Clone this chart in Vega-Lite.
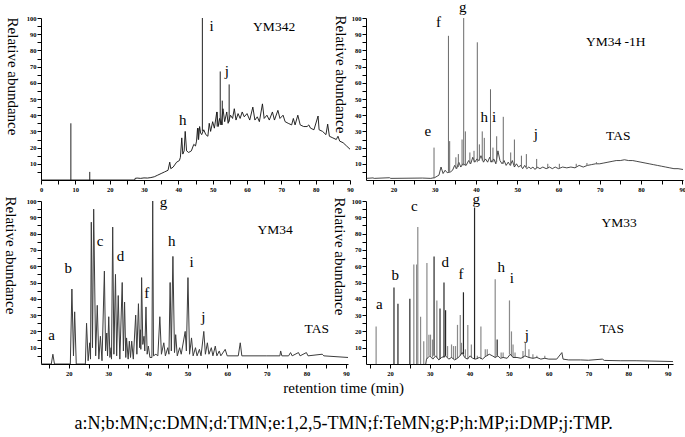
{
"$schema": "https://vega.github.io/schema/vega-lite/v6.json",
"padding": {"left": 2, "top": 0, "right": 0, "bottom": 0},
"autosize": {"type": "pad"},
"background": "white",
"config": {
  "view": {"stroke": null},
  "axis": {"grid": false, "domainColor": "#000", "tickColor": "#000", "labelColor": "#000", "labelFont": "Liberation Serif, Tinos, Times New Roman, DejaVu Serif, serif", "labelFontSize": 6.5, "labelFontWeight": "bold", "titleFont": "Liberation Serif, Tinos, Times New Roman, DejaVu Serif, serif", "titleFontSize": 15, "titleFontWeight": "normal", "titleColor": "#000", "labelFlush": false, "labelOverlap": false, "tickSize": 4},
  "text": {"font": "Liberation Serif, Tinos, Times New Roman, DejaVu Serif, serif", "color": "#000"}
},
"title": {"text": "retention time (min)", "orient": "bottom", "anchor": "middle", "frame": "bounds", "font": "Liberation Serif, Tinos, Times New Roman, DejaVu Serif, serif", "fontSize": 15, "fontWeight": "normal", "color": "#000", "offset": 4, "subtitle": "a:N;b:MN;c:DMN;d:TMN;e:1,2,5-TMN;f:TeMN;g:P;h:MP;i:DMP;j:TMP.", "subtitleFont": "Liberation Serif, Tinos, Times New Roman, DejaVu Serif, serif", "subtitleFontSize": 18, "subtitleColor": "#000", "subtitlePadding": 19},
"datasets": {
  "p1line": [{"t":0,"v":0},{"t":27.3,"v":0},{"t":27.4,"v":1},{"t":28,"v":1.2},{"t":29,"v":1},{"t":30,"v":1.3},{"t":31,"v":1.2},{"t":32,"v":1.5},{"t":33,"v":2},{"t":34,"v":3},{"t":35,"v":4},{"t":36,"v":5},{"t":37,"v":6},{"t":37.5,"v":11},{"t":37.8,"v":7},{"t":38.5,"v":8},{"t":39.5,"v":11},{"t":40.3,"v":12},{"t":40.6,"v":14},{"t":41,"v":26},{"t":41.3,"v":16},{"t":41.7,"v":18},{"t":42,"v":30},{"t":42.4,"v":18},{"t":43,"v":17},{"t":43.8,"v":18},{"t":44.5,"v":22},{"t":45,"v":21},{"t":45.3,"v":24},{"t":45.6,"v":32},{"t":45.9,"v":25},{"t":46.2,"v":33},{"t":46.5,"v":29},{"t":46.8,"v":28},{"t":47.4,"v":31},{"t":48,"v":28},{"t":48.6,"v":27},{"t":49,"v":35},{"t":49.4,"v":30},{"t":50,"v":36},{"t":50.5,"v":32},{"t":51.2,"v":42},{"t":51.6,"v":33},{"t":52,"v":38},{"t":52.5,"v":34},{"t":53,"v":44},{"t":53.5,"v":36},{"t":54.1,"v":42},{"t":54.5,"v":35},{"t":55.2,"v":40},{"t":55.8,"v":38},{"t":56.3,"v":44},{"t":56.8,"v":37},{"t":57.4,"v":41},{"t":58,"v":38},{"t":58.6,"v":42},{"t":59.2,"v":39},{"t":60,"v":41},{"t":60.8,"v":37},{"t":61.7,"v":45},{"t":62.3,"v":37},{"t":63,"v":39},{"t":63.6,"v":36},{"t":64.5,"v":47},{"t":65,"v":38},{"t":65.8,"v":40},{"t":66.5,"v":37},{"t":67.4,"v":42},{"t":68,"v":37},{"t":69,"v":43},{"t":69.6,"v":38},{"t":70.5,"v":40},{"t":71.1,"v":36},{"t":72,"v":35},{"t":73,"v":34},{"t":73.5,"v":38},{"t":74,"v":34},{"t":74.8,"v":40},{"t":75.5,"v":34},{"t":76.5,"v":33},{"t":77.5,"v":33},{"t":78,"v":34},{"t":78.5,"v":32},{"t":79.5,"v":31},{"t":80.7,"v":39.5},{"t":81,"v":31},{"t":82,"v":30},{"t":83,"v":28},{"t":83.5,"v":34.5},{"t":84,"v":27},{"t":85,"v":26},{"t":86,"v":25},{"t":86.5,"v":27},{"t":87,"v":24},{"t":88,"v":23},{"t":89,"v":21},{"t":90,"v":19}],
  "p1spk": [{"t":8.7,"v":0,"v2":35},{"t":14.2,"v":0,"v2":5},{"t":45.8,"v":25,"v2":32},{"t":47,"v":30,"v2":100},{"t":51.3,"v":33,"v2":42},{"t":52.2,"v":34,"v2":67},{"t":52.8,"v":34,"v2":49},{"t":54.8,"v":36,"v2":59}],
  "p1lab": [{"t":41.3,"v":37.2,"label":"h","kind":"peak"},{"t":49.7,"v":94.9,"label":"i","kind":"peak"},{"t":54.1,"v":67.5,"label":"j","kind":"peak"},{"t":67.9,"v":94.3,"label":"YM342","kind":"name"}],
  "p2line": [{"t":13.3,"v":1},{"t":15,"v":1.3},{"t":15.3,"v":1},{"t":19,"v":1.4},{"t":19.3,"v":1},{"t":27,"v":1.2},{"t":29,"v":1},{"t":30,"v":1.5},{"t":31,"v":3},{"t":31.5,"v":8},{"t":32,"v":4},{"t":32.5,"v":6},{"t":33,"v":4.5},{"t":33.8,"v":5},{"t":34.3,"v":6},{"t":34.8,"v":9},{"t":35.3,"v":7},{"t":35.8,"v":11},{"t":36.3,"v":8},{"t":36.8,"v":10},{"t":37.6,"v":9},{"t":38.2,"v":12},{"t":38.7,"v":10},{"t":39.2,"v":14},{"t":39.7,"v":11},{"t":40.2,"v":13},{"t":40.7,"v":12},{"t":41.2,"v":15},{"t":41.8,"v":11},{"t":42.3,"v":13},{"t":42.8,"v":11},{"t":43.3,"v":14},{"t":43.8,"v":11},{"t":44.3,"v":13},{"t":44.8,"v":10},{"t":45.3,"v":18},{"t":45.8,"v":12},{"t":46.3,"v":10},{"t":46.8,"v":12},{"t":47.3,"v":9},{"t":47.8,"v":11},{"t":48.3,"v":9},{"t":48.8,"v":12},{"t":49.3,"v":8},{"t":49.8,"v":10},{"t":50.3,"v":8},{"t":50.8,"v":9},{"t":51.3,"v":7},{"t":51.8,"v":9},{"t":52.3,"v":7},{"t":52.8,"v":8},{"t":53.3,"v":7},{"t":53.8,"v":8},{"t":54.3,"v":6.5},{"t":54.8,"v":8},{"t":55.5,"v":7},{"t":56.2,"v":8},{"t":57,"v":7},{"t":57.8,"v":8},{"t":58.5,"v":7},{"t":59.2,"v":8},{"t":60,"v":7},{"t":61,"v":8},{"t":62,"v":7.5},{"t":63,"v":8},{"t":64,"v":7.5},{"t":65,"v":9},{"t":66,"v":8},{"t":67,"v":9},{"t":68,"v":9.5},{"t":69,"v":10},{"t":70,"v":10},{"t":71,"v":10.5},{"t":72,"v":11},{"t":73,"v":11.5},{"t":74,"v":12},{"t":75,"v":12},{"t":76,"v":12.5},{"t":77,"v":12},{"t":78,"v":12},{"t":79,"v":11.5},{"t":80,"v":11},{"t":81,"v":10.5},{"t":82,"v":10},{"t":83,"v":9.5},{"t":84,"v":9},{"t":85,"v":8.5},{"t":86,"v":8},{"t":87,"v":7.5},{"t":88,"v":7},{"t":89,"v":7},{"t":90.2,"v":6.5}],
  "p2spk": [{"t":29.8,"v":1,"v2":20},{"t":33.3,"v":5,"v2":89},{"t":33.6,"v":5,"v2":24},{"t":35.1,"v":7,"v2":14},{"t":35.7,"v":8,"v2":16},{"t":36.6,"v":9,"v2":25},{"t":37,"v":9,"v2":100},{"t":37.4,"v":9,"v2":30},{"t":38.5,"v":10,"v2":17},{"t":39.5,"v":11,"v2":18},{"t":40.3,"v":11,"v2":85},{"t":40.8,"v":12,"v2":22},{"t":41.5,"v":12,"v2":30},{"t":42,"v":12,"v2":26},{"t":43.5,"v":11,"v2":56},{"t":44.1,"v":11,"v2":20},{"t":45,"v":11,"v2":27},{"t":46.6,"v":10,"v2":39},{"t":48.4,"v":9,"v2":17},{"t":49.3,"v":9,"v2":25},{"t":51,"v":8,"v2":15},{"t":52.2,"v":8,"v2":16},{"t":54.7,"v":7,"v2":13},{"t":57.4,"v":7,"v2":10},{"t":60.2,"v":7,"v2":10},{"t":64.3,"v":8,"v2":10},{"t":66.9,"v":9,"v2":10.5},{"t":69.2,"v":10,"v2":11}],
  "p2lab": [{"t":28.3,"v":30.2,"label":"e","kind":"peak"},{"t":30.9,"v":97.7,"label":"f","kind":"peak"},{"t":36.8,"v":106.6,"label":"g","kind":"peak"},{"t":42.0,"v":38.9,"label":"h","kind":"peak"},{"t":44.4,"v":38.9,"label":"i","kind":"peak"},{"t":54.5,"v":28.4,"label":"j","kind":"peak"},{"t":74.5,"v":27.3,"label":"TAS","kind":"name"},{"t":73.9,"v":85.2,"label":"YM34 -1H","kind":"name"}],
  "p3line": [{"t":13,"v":0},{"t":15.6,"v":0},{"t":16,"v":6},{"t":16.4,"v":0},{"t":20.4,"v":0},{"t":20.8,"v":46},{"t":21.2,"v":5},{"t":21.5,"v":32},{"t":21.9,"v":0},{"t":24.2,"v":0},{"t":24.5,"v":25},{"t":24.9,"v":2},{"t":25.3,"v":13},{"t":25.5,"v":3},{"t":25.7,"v":87},{"t":26,"v":10},{"t":26.3,"v":95},{"t":26.8,"v":5},{"t":27.2,"v":36},{"t":27.6,"v":3},{"t":28,"v":17},{"t":28.4,"v":2},{"t":29,"v":57},{"t":29.3,"v":8},{"t":29.6,"v":19},{"t":29.8,"v":5},{"t":30.1,"v":29},{"t":30.4,"v":4},{"t":30.7,"v":10},{"t":30.8,"v":3},{"t":31.1,"v":84},{"t":31.4,"v":6},{"t":31.8,"v":55},{"t":32.1,"v":5},{"t":32.5,"v":42},{"t":32.9,"v":3},{"t":33.5,"v":50},{"t":33.8,"v":8},{"t":34.1,"v":38},{"t":34.4,"v":4},{"t":34.6,"v":16},{"t":35,"v":3},{"t":35.3,"v":14},{"t":35.6,"v":4},{"t":35.9,"v":14},{"t":36.3,"v":3},{"t":36.9,"v":30},{"t":37.2,"v":6},{"t":37.6,"v":37},{"t":37.9,"v":10},{"t":38.1,"v":21},{"t":38.2,"v":9},{"t":38.4,"v":53},{"t":38.7,"v":12},{"t":39,"v":17},{"t":39.2,"v":8},{"t":39.5,"v":35},{"t":39.8,"v":6},{"t":40.1,"v":11},{"t":40.5,"v":4},{"t":41,"v":4},{"t":41.2,"v":100},{"t":41.4,"v":5},{"t":42,"v":6},{"t":42.5,"v":5},{"t":43,"v":29},{"t":43.4,"v":6},{"t":44,"v":13},{"t":44.4,"v":5},{"t":45,"v":10},{"t":45.3,"v":6},{"t":45.6,"v":50},{"t":45.9,"v":8},{"t":46.3,"v":66},{"t":46.7,"v":7},{"t":47,"v":18},{"t":47.4,"v":5},{"t":48,"v":10},{"t":48.4,"v":6},{"t":49.4,"v":20},{"t":49.7,"v":8},{"t":50.1,"v":53},{"t":50.5,"v":6},{"t":51,"v":16},{"t":51.4,"v":5},{"t":52,"v":10},{"t":52.4,"v":5},{"t":53,"v":9},{"t":53.4,"v":5},{"t":54.1,"v":20},{"t":54.5,"v":6},{"t":55,"v":13},{"t":55.4,"v":6},{"t":56,"v":10},{"t":56.4,"v":5},{"t":57,"v":11},{"t":57.4,"v":5},{"t":58,"v":8},{"t":58.4,"v":5},{"t":59.5,"v":9},{"t":60,"v":5},{"t":62.8,"v":5},{"t":63.3,"v":13},{"t":63.7,"v":5},{"t":65,"v":5},{"t":70,"v":5},{"t":73.3,"v":5},{"t":73.5,"v":8},{"t":73.8,"v":5},{"t":75.5,"v":5},{"t":76,"v":7},{"t":76.4,"v":5},{"t":78,"v":7},{"t":78.4,"v":5},{"t":80,"v":7},{"t":80.4,"v":5},{"t":84,"v":6},{"t":84.4,"v":5},{"t":90.5,"v":4}],
  "p3lab": [{"t":15.7,"v":17.8,"label":"a","kind":"peak"},{"t":19.9,"v":58.7,"label":"b","kind":"peak"},{"t":27.9,"v":75.6,"label":"c","kind":"peak"},{"t":33.1,"v":66.4,"label":"d","kind":"peak"},{"t":39.7,"v":43.6,"label":"f","kind":"peak"},{"t":43.9,"v":99.2,"label":"g","kind":"peak"},{"t":46.0,"v":75.6,"label":"h","kind":"peak"},{"t":51.0,"v":62.8,"label":"i","kind":"peak"},{"t":54.0,"v":28.7,"label":"j","kind":"peak"},{"t":82.6,"v":21.5,"label":"TAS","kind":"name"},{"t":72.1,"v":82.4,"label":"YM34","kind":"name"}],
  "p4line": [{"t":29,"v":0},{"t":29.2,"v":3},{"t":30,"v":5},{"t":30.8,"v":3},{"t":31.5,"v":5},{"t":32.3,"v":2.5},{"t":33,"v":4},{"t":34,"v":5},{"t":34.8,"v":3},{"t":35.5,"v":4},{"t":36.3,"v":2.5},{"t":37,"v":3.5},{"t":37.6,"v":5},{"t":38.2,"v":7},{"t":38.8,"v":4},{"t":39.5,"v":3},{"t":40.2,"v":5},{"t":40.8,"v":3.5},{"t":41.6,"v":3},{"t":42.5,"v":4},{"t":43.3,"v":3},{"t":44,"v":4.5},{"t":45,"v":6},{"t":45.8,"v":5},{"t":46.5,"v":4},{"t":47.2,"v":5},{"t":47.8,"v":3.5},{"t":48.5,"v":4},{"t":49.5,"v":3.5},{"t":50.3,"v":6},{"t":51,"v":4},{"t":52,"v":4},{"t":53,"v":3.5},{"t":54,"v":5},{"t":55,"v":4},{"t":56,"v":3.5},{"t":57,"v":4},{"t":58,"v":3},{"t":59,"v":3.5},{"t":60,"v":3},{"t":62,"v":3},{"t":63.3,"v":7},{"t":63.6,"v":3},{"t":65,"v":2.5},{"t":68,"v":2.5},{"t":70,"v":2.3},{"t":73.5,"v":3},{"t":74,"v":2.2},{"t":78,"v":2},{"t":82,"v":2},{"t":86,"v":1.8},{"t":91.3,"v":1.5}],
  "p4dark": [{"t":21,"v":0,"v2":47},{"t":22,"v":0,"v2":37},{"t":25,"v":0,"v2":40},{"t":31.1,"v":5,"v2":66},{"t":32.6,"v":3,"v2":34},{"t":33.6,"v":4,"v2":50},{"t":34,"v":5,"v2":33},{"t":38.5,"v":6,"v2":44},{"t":41.3,"v":3,"v2":96},{"t":47,"v":5,"v2":15}],
  "p4light": [{"t":16.5,"v":0,"v2":23},{"t":26,"v":0,"v2":61},{"t":26.7,"v":0,"v2":61},{"t":27,"v":0,"v2":84},{"t":27.7,"v":0,"v2":29},{"t":28.5,"v":0,"v2":14},{"t":29.3,"v":3,"v2":62},{"t":29.8,"v":5,"v2":18},{"t":30.2,"v":5,"v2":18},{"t":30.7,"v":4,"v2":15},{"t":31.8,"v":4,"v2":39},{"t":34.5,"v":4,"v2":11},{"t":35.5,"v":4,"v2":12},{"t":36,"v":3,"v2":11},{"t":36.5,"v":3,"v2":11},{"t":37,"v":3.5,"v2":24},{"t":37.7,"v":5,"v2":30},{"t":38,"v":6,"v2":13},{"t":39,"v":4,"v2":9},{"t":39.6,"v":3,"v2":24},{"t":40.5,"v":4,"v2":12},{"t":42,"v":3,"v2":5},{"t":42.9,"v":3,"v2":23},{"t":44,"v":4.5,"v2":9},{"t":44.5,"v":5,"v2":9},{"t":46.5,"v":4,"v2":52},{"t":48,"v":4,"v2":7},{"t":48.5,"v":4,"v2":7},{"t":50.1,"v":6,"v2":39},{"t":50.6,"v":5,"v2":20},{"t":51,"v":4,"v2":12},{"t":51.5,"v":4,"v2":7},{"t":53.5,"v":3.5,"v2":8},{"t":54.1,"v":5,"v2":13},{"t":55,"v":4,"v2":9},{"t":56,"v":3.5,"v2":6},{"t":57,"v":4,"v2":5},{"t":59,"v":3.5,"v2":5}],
  "p4lab": [{"t":17.3,"v":36.8,"label":"a","kind":"peak"},{"t":21.3,"v":54.6,"label":"b","kind":"peak"},{"t":26.1,"v":96.7,"label":"c","kind":"peak"},{"t":33.9,"v":62.8,"label":"d","kind":"peak"},{"t":37.9,"v":55.2,"label":"f","kind":"peak"},{"t":41.7,"v":101.2,"label":"g","kind":"peak"},{"t":48.0,"v":59.7,"label":"h","kind":"peak"},{"t":50.7,"v":52.6,"label":"i","kind":"peak"},{"t":54.5,"v":17.8,"label":"j","kind":"peak"},{"t":75.9,"v":21.5,"label":"TAS","kind":"name"},{"t":77.7,"v":86.3,"label":"YM33","kind":"name"}]
},
"columns": 2,
"spacing": {"row": 21, "column": 16},
"bounds": "flush",
"concat": [
  {"width": 309, "height": 162,
   "encoding": {
    "x": {"field": "t", "type": "quantitative", "scale": {"domain": [0, 90], "nice": false, "zero": false}, "axis": {"title": null, "values": [0,5,10,15,20,25,30,35,40,45,50,55,60,65,70,75,80,85,90], "labelExpr": "datum.value % 10 == 0 ? datum.label : ''", "labelPadding": 2}},
    "y": {"field": "v", "type": "quantitative", "scale": {"domain": [0, 100], "nice": false, "zero": false}, "axis": {"title": "Relative abundance", "values": [5,10,15,20,25,30,35,40,45,50,55,60,65,70,75,80,85,90,95,100], "labelExpr": "datum.value % 10 == 0 ? datum.label : ''", "labelPadding": 1, "titleAngle": 90, "titleX": -29, "titleY": 58, "titleAlign": "center", "titleBaseline": "middle"}}
   },
   "layer": [
    {"data": {"name": "p1line"}, "mark": {"type": "line", "color": "#111", "strokeWidth": 0.9, "clip": true}, "encoding": {}},
    {"data": {"name": "p1spk"}, "mark": {"type": "rule", "color": "#222", "strokeWidth": 1, "clip": true}, "encoding": {"y2": {"field": "v2"}}},
    {"data": {"name": "p1lab"}, "mark": {"type": "text", "align": "center", "baseline": "middle", "color": "#000"}, "encoding": {"text": {"field": "label"}, "size": {"field": "kind", "type": "ordinal", "scale": {"domain": ["peak", "name"], "range": [15, 13.5]}, "legend": null}}}
   ]},
  {"width": 317, "height": 162,
   "encoding": {
    "x": {"field": "t", "type": "quantitative", "scale": {"domain": [13.3, 90.2], "nice": false, "zero": false}, "axis": {"title": null, "values": [15,20,25,30,35,40,45,50,55,60,65,70,75,80,85,90], "labelExpr": "datum.value % 10 == 0 ? datum.label : ''", "labelPadding": 2}},
    "y": {"field": "v", "type": "quantitative", "scale": {"domain": [0, 100], "nice": false, "zero": false}, "axis": {"title": "Relative abundance", "values": [5,10,15,20,25,30,35,40,45,50,55,60,65,70,75,80,85,90,95,100], "labelExpr": "datum.value % 10 == 0 ? datum.label : ''", "labelPadding": 1, "titleAngle": 90, "titleX": -26, "titleY": 56, "titleAlign": "center", "titleBaseline": "middle"}}
   },
   "layer": [
    {"data": {"name": "p2line"}, "mark": {"type": "line", "color": "#1a1a1a", "strokeWidth": 0.8, "clip": true}, "encoding": {}},
    {"data": {"name": "p2spk"}, "mark": {"type": "rule", "color": "#6a6a6a", "strokeWidth": 1, "clip": true}, "encoding": {"y2": {"field": "v2"}}},
    {"data": {"name": "p2lab"}, "mark": {"type": "text", "align": "center", "baseline": "middle", "color": "#000"}, "encoding": {"text": {"field": "label"}, "size": {"field": "kind", "type": "ordinal", "scale": {"domain": ["peak", "name"], "range": [15, 13.5]}, "legend": null}}}
   ]},
  {"width": 307, "height": 163,
   "encoding": {
    "x": {"field": "t", "type": "quantitative", "scale": {"domain": [13, 90.5], "nice": false, "zero": false}, "axis": {"title": null, "values": [15,20,25,30,35,40,45,50,55,60,65,70,75,80,85,90], "labelExpr": "datum.value % 10 == 0 ? datum.label : ''", "labelPadding": 2}},
    "y": {"field": "v", "type": "quantitative", "scale": {"domain": [0, 100], "nice": false, "zero": false}, "axis": {"title": "Relative abundance", "values": [5,10,15,20,25,30,35,40,45,50,55,60,65,70,75,80,85,90,95,100], "labelExpr": "datum.value % 10 == 0 ? datum.label : ''", "labelPadding": 1, "titleAngle": 90, "titleX": -31, "titleY": 54, "titleAlign": "center", "titleBaseline": "middle"}}
   },
   "layer": [
    {"data": {"name": "p3line"}, "mark": {"type": "line", "color": "#3c3c3c", "strokeWidth": 1, "clip": true}, "encoding": {}},
    {"data": {"name": "p3lab"}, "mark": {"type": "text", "align": "center", "baseline": "middle", "color": "#000"}, "encoding": {"text": {"field": "label"}, "size": {"field": "kind", "type": "ordinal", "scale": {"domain": ["peak", "name"], "range": [15, 13.5]}, "legend": null}}}
   ]},
  {"width": 307, "height": 163,
   "encoding": {
    "x": {"field": "t", "type": "quantitative", "scale": {"domain": [13.95, 91.3], "nice": false, "zero": false}, "axis": {"title": null, "values": [15,20,25,30,35,40,45,50,55,60,65,70,75,80,85,90], "labelExpr": "datum.value % 10 == 0 ? datum.label : ''", "labelPadding": 2}},
    "y": {"field": "v", "type": "quantitative", "scale": {"domain": [0, 100], "nice": false, "zero": false}, "axis": {"title": "Relative abundance", "values": [5,10,15,20,25,30,35,40,45,50,55,60,65,70,75,80,85,90,95,100], "labelExpr": "datum.value % 10 == 0 ? datum.label : ''", "labelPadding": 1, "titleAngle": 90, "titleX": -27, "titleY": 55, "titleAlign": "center", "titleBaseline": "middle"}}
   },
   "layer": [
    {"data": {"name": "p4light"}, "mark": {"type": "rule", "color": "#8a8a8a", "strokeWidth": 1.2, "clip": true}, "encoding": {"y2": {"field": "v2"}}},
    {"data": {"name": "p4dark"}, "mark": {"type": "rule", "color": "#262626", "strokeWidth": 1.2, "clip": true}, "encoding": {"y2": {"field": "v2"}}},
    {"data": {"name": "p4line"}, "mark": {"type": "line", "color": "#2a2a2a", "strokeWidth": 0.9, "clip": true}, "encoding": {}},
    {"data": {"name": "p4lab"}, "mark": {"type": "text", "align": "center", "baseline": "middle", "color": "#000"}, "encoding": {"text": {"field": "label"}, "size": {"field": "kind", "type": "ordinal", "scale": {"domain": ["peak", "name"], "range": [15, 13.5]}, "legend": null}}}
   ]}
]
}
